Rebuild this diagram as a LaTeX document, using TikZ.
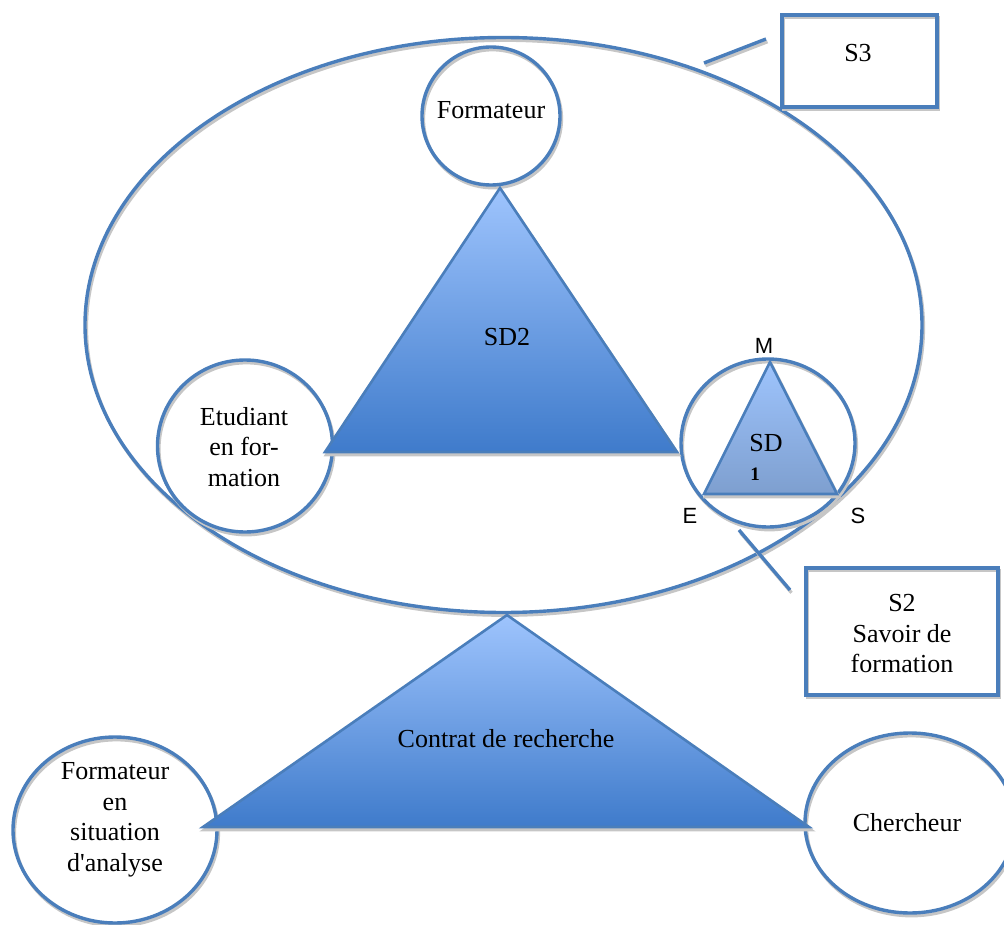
\documentclass[tikz,border=0pt]{standalone}
\usepackage{fontspec}
\setmainfont{Liberation Serif}
\newfontfamily\arialf{Liberation Sans}
\usetikzlibrary{shapes.geometric}
\definecolor{lineblue}{HTML}{4A7EBB}
\definecolor{shadowc}{HTML}{C6C6C6}
\definecolor{topblue}{HTML}{9EC4FD}
\definecolor{botblue}{HTML}{3F7BCB}
\definecolor{botgray}{HTML}{7E9FCF}
\tikzset{
  shd/.style={preaction={draw=shadowc, line width=3.2pt, transform canvas={shift={(1.5pt,-2.8pt)}}}},
  ring/.style={ellipse, draw=lineblue, line width=3.4pt, inner sep=0pt, shd},
  boxst/.style={rectangle, draw=lineblue, line width=3.4pt, inner sep=0pt, shd},
  tri/.style={draw=lineblue, line width=2.6pt, line join=miter, top color=topblue, bottom color=botblue, shd},
  tri1/.style={draw=lineblue, line width=2.6pt, line join=miter, top color=topblue, bottom color=botgray, shd},
  lbl/.style={font=\fontsize{26}{30.5}\selectfont, align=center, inner sep=0pt},
  sans/.style={font=\arialf\fontsize{22}{26}\selectfont, inner sep=0pt},
  link/.style={draw=lineblue, line width=3.4pt, shd}
}
\begin{document}
\begin{tikzpicture}[x=1pt,y=-1pt]
\useasboundingbox (0,0) rectangle (1004,925);
\clip (0,0) rectangle (1004,925);
% big ellipse
\node[ring, minimum width=837pt, minimum height=575pt] (big) at (503.5,325) {};
% circles
\node[ring, minimum width=138pt, minimum height=138pt] (form) at (491,116) {};
\node[lbl] (formt) at (491,110) {Formateur};
\node[ring, minimum width=175pt, minimum height=172pt] (etud) at (245,446) {};
\node[lbl] (etudt) at (244,447) {Etudiant\\en for-\\mation};
\node[ring, minimum width=174pt, minimum height=168pt] (sd1c) at (768,443) {};
\node[ring, minimum width=204pt, minimum height=186pt] (fa) at (115,830) {};
\node[lbl] (fat) at (115,820) {Formateur\\en\\situation\\d\textquotesingle analyse};
\node[ring, minimum width=210pt, minimum height=180pt] (cher) at (910,823) {};
\node[lbl] (chert) at (907,823) {Chercheur};
% triangles
\coordinate (sd2a) at (500,188);
\coordinate (sd2l) at (325,452);
\coordinate (sd2r) at (677,452);
\path[tri] (sd2a) -- (sd2r) -- (sd2l) -- cycle;
\node[lbl] (sd2) at (507,337) {SD2};
\coordinate (cra) at (507,615);
\coordinate (crl) at (203,827);
\coordinate (crr) at (809,827);
\path[tri] (cra) -- (crr) -- (crl) -- cycle;
\node[lbl] (crt) at (506,739) {Contrat de recherche};
\coordinate (sda) at (770,362);
\coordinate (sdl) at (704,494);
\coordinate (sdr) at (837,494);
\path[tri1] (sda) -- (sdr) -- (sdl) -- cycle;
\node[lbl] (sd1) at (766,443) {SD};
\node[font=\bfseries\fontsize{19}{21}\selectfont, inner sep=0pt] (sd1n) at (755,474) {1};
\node[sans] (m) at (764,346) {M};
\node[sans] (e) at (690,516) {E};
\node[sans] (s) at (858,516) {S};
% boxes
\node[boxst, minimum width=155pt, minimum height=92pt] (s3) at (859.5,61) {};
\node[lbl] (s3t) at (858,53) {S3};
\node[boxst, minimum width=192pt, minimum height=127pt] (s2) at (902,631.5) {};
\node[lbl] (s2t) at (902,634) {S2\\Savoir de\\formation};
% callout lines
\coordinate (l3a) at (704,63);
\coordinate (l3b) at (766,39);
\draw[link] (l3a) -- (l3b);
\coordinate (l2a) at (739,530);
\coordinate (l2b) at (790,590);
\draw[link] (l2a) -- (l2b);
\end{tikzpicture}
\end{document}
